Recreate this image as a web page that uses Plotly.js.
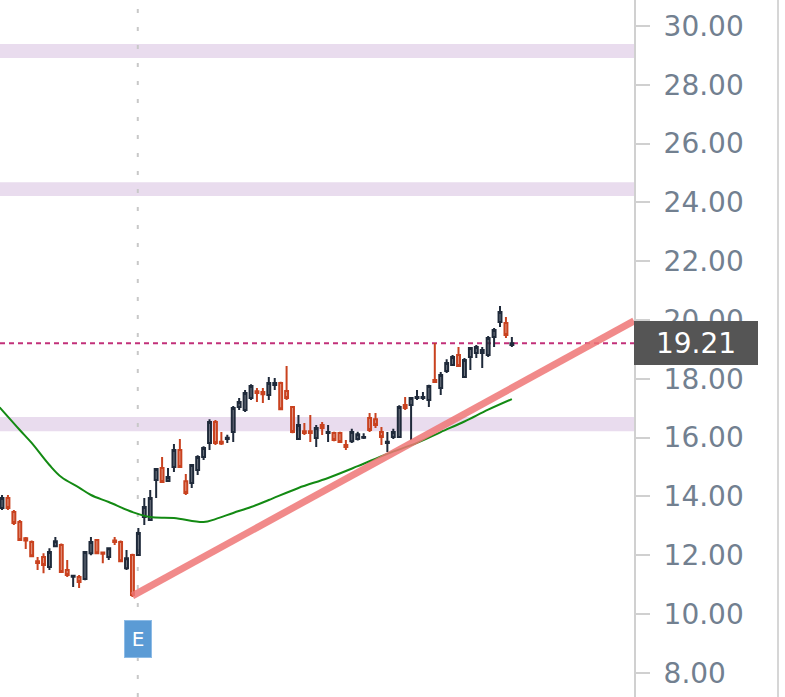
<!DOCTYPE html>
<html>
<head>
<meta charset="utf-8">
<script src="https://cdn.plot.ly/plotly-3.0.1.min.js"></script>
<style>
  html, body { margin: 0; padding: 0; background: #ffffff; }
  #chart { width: 785px; height: 697px; }
</style>
</head>
<body>
<div id="chart"></div>
<script>
// ---- OHLC data (one entry per trading day) ----
const opens  = [13.61,13.95,13.47,13.13,12.58,12.45,11.80,11.94,11.60,12.31,
                12.35,11.50,11.27,11.26,11.19,12.07,12.52,12.09,11.94,12.50,
                12.45,11.56,12.01,12.01,13.30,13.20,14.56,14.97,14.53,15.00,
                15.58,14.52,14.46,14.90,15.34,15.82,16.53,15.86,15.95,16.19,
                17.04,16.94,17.35,17.58,17.55,17.45,17.79,17.86,17.59,17.04,
                15.95,16.22,16.22,15.99,16.43,16.16,16.16,16.16,15.75,15.88,
                15.95,16.00,16.67,16.63,16.19,15.82,16.02,16.02,17.11,17.11,
                17.35,17.35,17.28,17.96,17.69,18.27,18.47,18.81,18.06,18.74,
                18.88,18.88,18.81,19.42,19.93,19.90,19.15];
const highs  = [14.05,14.05,13.54,13.20,12.62,12.50,11.94,12.07,12.24,12.62,
                12.40,11.84,11.32,11.33,12.14,12.62,12.55,12.10,12.27,12.62,
                12.50,12.18,12.05,12.93,13.95,14.22,14.97,15.34,14.97,15.78,
                15.95,14.76,15.10,15.40,15.71,16.63,16.60,16.19,16.10,17.08,
                17.35,17.62,17.82,17.69,17.69,18.06,18.03,17.90,18.44,17.08,
                16.77,16.50,16.77,16.43,16.53,16.43,16.20,16.20,15.92,16.30,
                16.20,16.15,16.84,16.84,16.36,16.19,16.30,17.10,17.38,17.38,
                17.62,17.55,17.80,19.22,18.23,18.67,18.81,19.08,18.71,19.08,
                19.15,19.08,19.46,19.73,20.48,20.10,19.42];
const lows   = [13.54,13.54,13.03,12.49,12.21,11.93,11.50,11.39,11.50,12.28,
                11.40,11.26,10.92,10.89,11.15,12.00,12.04,11.73,11.84,12.35,
                11.78,11.50,10.58,11.98,13.03,13.18,13.95,14.46,14.50,14.83,
                14.97,14.05,14.29,14.73,15.24,15.58,15.75,15.75,15.82,15.85,
                16.94,16.87,17.28,17.21,17.18,17.28,17.62,16.94,17.28,16.15,
                15.92,16.09,15.85,15.68,16.09,15.85,15.88,15.82,15.58,15.82,
                15.90,15.95,16.19,16.33,15.75,15.51,15.95,16.00,16.94,15.92,
                17.28,17.28,17.04,17.87,17.45,18.20,18.44,18.40,18.03,18.30,
                18.71,18.37,18.74,19.08,19.76,19.39,19.08];
const closes = [13.95,13.61,13.10,12.52,12.50,11.97,11.74,11.67,12.11,12.48,
                11.43,11.33,11.30,11.09,12.11,12.45,12.07,12.05,12.24,12.45,
                11.80,11.90,10.65,12.76,13.64,13.95,14.93,14.49,14.66,15.58,
                15.00,14.12,15.07,15.34,15.65,16.53,15.82,15.80,16.00,17.01,
                17.21,17.52,17.76,17.52,17.48,17.86,17.86,16.97,17.35,16.19,
                16.43,16.16,16.16,16.33,16.33,16.19,15.92,15.85,15.68,16.19,
                16.12,16.02,16.26,16.43,16.02,15.86,16.19,17.04,17.01,17.35,
                17.38,17.38,17.76,17.89,18.13,18.54,18.74,18.44,18.64,19.05,
                19.08,18.98,19.39,19.66,20.27,19.49,19.21];

// ---- moving average (green), read at some day indices ----
const maX = [-0.4,3,5,8,10,13,15,18,22,25,29,34,36,39,42,45,50,55,60,65,70,74,78,82,86];
const maY = [17.03,16.26,15.82,15.07,14.66,14.30,14.05,13.81,13.47,13.30,13.27,13.13,13.23,
             13.44,13.64,13.88,14.29,14.63,15.03,15.45,15.82,16.19,16.55,16.95,17.31];

// ---- drawn trend line (pink) ----
const trendX = [22, 106.6];
const trendY = [10.62, 19.97];

// ---- horizontal zones [low, high] ----
const zones = [[28.91, 29.39], [24.22, 24.69], [16.22, 16.70]];

// ---- last price & earnings event ----
const lastPrice = 19.21;
const lastPriceLabel = "19.21";
const eventX = 22.9;
const eventLabel = "E";
const eventLabelY = 9.15;

const dayIdx = opens.map((_, i) => i);

const traces = [
  {
    type: 'scatter', mode: 'lines', x: maX, y: maY,
    line: {color: '#138a13', width: 2, shape: 'spline', smoothing: 1},
    hoverinfo: 'skip', showlegend: false
  },
  {
    type: 'candlestick', x: dayIdx, open: opens, high: highs, low: lows, close: closes,
    increasing: {line: {color: '#1f2a3a', width: 2}, fillcolor: 'rgba(31,42,58,0.6)'},
    decreasing: {line: {color: '#c9421f', width: 2}, fillcolor: 'rgba(201,66,31,0.5)'},
    whiskerwidth: 0, showlegend: false, hoverinfo: 'skip'
  },
  {
    type: 'scatter', mode: 'lines', x: trendX, y: trendY,
    line: {color: 'rgba(238,118,118,0.85)', width: 7},
    hoverinfo: 'skip', showlegend: false
  }
];

const shapes = zones.map(z => ({
  type: 'rect', xref: 'paper', yref: 'y', x0: 0, x1: 1, y0: z[0], y1: z[1],
  fillcolor: '#e9dcee', line: {width: 0}, layer: 'below'
}));
shapes.push({
  type: 'line', xref: 'paper', yref: 'y', x0: 0, x1: 1, y0: lastPrice, y1: lastPrice,
  line: {color: '#c2307a', width: 2, dash: '5px,4px'}, layer: 'below'
});
shapes.push({
  type: 'line', xref: 'x', yref: 'paper', x0: eventX, x1: eventX, y0: 0, y1: 1,
  line: {color: '#c8c8c8', width: 2, dash: '4px,14px'}, layer: 'below'
});
shapes.push({
  type: 'line', xref: 'paper', yref: 'paper', x0: 1.2271, x1: 1.2271, y0: 0, y1: 1,
  line: {color: '#d6d6d6', width: 2}
});

const layout = {
  width: 785, height: 697,
  margin: {l: 0, r: 151, t: 0, b: 0, pad: 0},
  paper_bgcolor: '#ffffff', plot_bgcolor: '#ffffff',
  showlegend: false,
  xaxis: {
    range: [-0.34, 106.6], visible: false, rangeslider: {visible: false},
    showgrid: false, zeroline: false, fixedrange: true
  },
  yaxis: {
    range: [7.18, 30.884], side: 'right', dtick: 2, tick0: 0, tickformat: '.2f',
    ticks: 'outside', ticklen: 14, tickwidth: 2, tickcolor: '#d0d0d0',
    showline: true, linecolor: '#d0d0d0', linewidth: 2,
    showgrid: false, zeroline: false, ticklabelstandoff: 8,
    tickfont: {family: 'DejaVu Sans, Verdana, sans-serif', size: 28, color: '#728090'}
  },
  shapes: shapes,
  annotations: [
    {
      xref: 'paper', yref: 'y', x: 1, y: lastPrice, xanchor: 'left', yanchor: 'middle',
      text: lastPriceLabel, showarrow: false, bgcolor: '#555555',
      width: 124, height: 44, borderpad: 0, borderwidth: 0, align: 'center',
      font: {family: 'DejaVu Sans, Verdana, sans-serif', size: 28, color: '#ffffff'}
    },
    {
      xref: 'x', yref: 'y', x: eventX, y: eventLabelY, xanchor: 'center', yanchor: 'middle',
      text: eventLabel, showarrow: false, bgcolor: '#5b9bd5', bordercolor: '#8dbbe6',
      borderwidth: 1, borderpad: 0, width: 26, height: 36,
      font: {family: 'DejaVu Sans, Verdana, sans-serif', size: 20, color: '#ffffff'}
    }
  ]
};

Plotly.newPlot('chart', traces, layout, {displayModeBar: false, staticPlot: true});
</script>
</body>
</html>
